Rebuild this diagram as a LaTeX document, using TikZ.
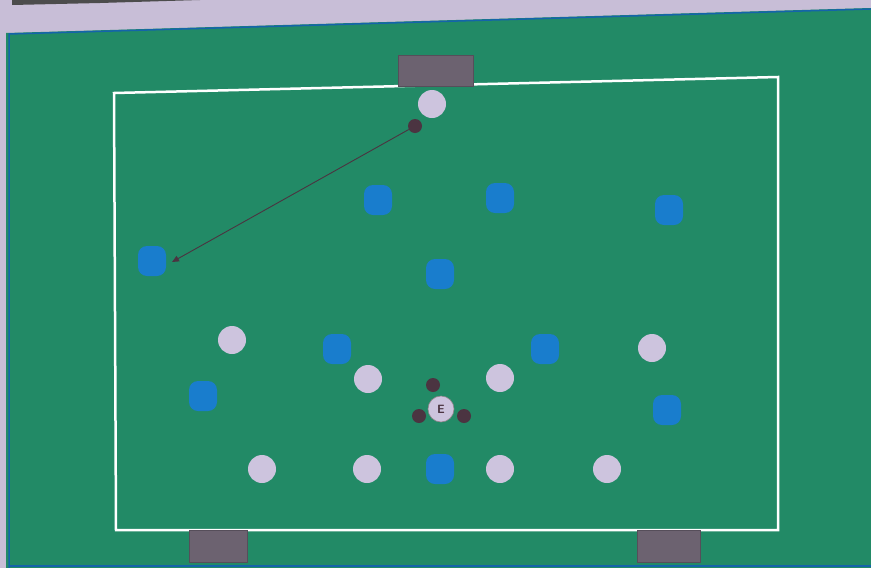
\documentclass[tikz,border=0pt]{standalone}
\usetikzlibrary{arrows.meta}
\definecolor{bgtop}{RGB}{200,190,215}
\definecolor{pitch}{RGB}{34,138,102}
\definecolor{edgeblue}{RGB}{20,100,170}
\definecolor{lightp}{RGB}{205,196,222}
\definecolor{bluep}{RGB}{25,125,205}
\definecolor{darkp}{RGB}{75,52,65}
\definecolor{goalc}{RGB}{108,98,112}
\tikzset{
  light/.style={circle,fill=lightp,minimum size=28pt,inner sep=0pt},
  bluepl/.style={rounded corners=9pt,fill=bluep,minimum width=28pt,minimum height=30pt,inner sep=0pt},
  dot/.style={circle,fill=darkp,minimum size=14pt,inner sep=0pt},
  goal/.style={fill=goalc,draw=goalc!80!black,line width=0.5pt},
  line/.style={draw=white,line width=2.5pt},
}
\begin{document}
\begin{tikzpicture}[x=1pt,y=-1pt]
\useasboundingbox (0,0) rectangle (871,568);
\fill[bgtop] (0,0) rectangle (871,568);
\fill[black!70] (12,0) -- (200,0) -- (100,3) -- (12,5) -- cycle;
\fill[pitch] (6,33) -- (871,8) -- (871,568) -- (6,568) -- cycle;
\draw[edgeblue,line width=1.5pt] (9,568) -- (9,34) -- (871,9);
\draw[edgeblue,line width=2pt] (9,566) -- (871,566);
% field lines
\draw[line] (114,93) -- (778,77) -- (778,530) -- (116,530) -- cycle;
% goals
\fill[goal] (398,55) rectangle (473,86);
\fill[goal] (189,530) rectangle (247,562);
\fill[goal] (637,530) rectangle (700,562);
% light players
\node[light] (t1) at (432,104) {};
\node[light] (l1) at (232,340) {};
\node[light] (l2) at (368,379) {};
\node[light] (l3) at (500,378) {};
\node[light] (l4) at (652,348) {};
\node[light] (l5) at (262,469) {};
\node[light] (l6) at (367,469) {};
\node[light] (l7) at (500,469) {};
\node[light] (l8) at (607,469) {};
% blue players
\node[bluepl] (b1) at (378,200) {};
\node[bluepl] (b2) at (500,198) {};
\node[bluepl] (b3) at (669,210) {};
\node[bluepl] (b4) at (152,261) {};
\node[bluepl] (b5) at (440,274) {};
\node[bluepl] (b6) at (337,349) {};
\node[bluepl] (b7) at (545,349) {};
\node[bluepl] (b8) at (203,396) {};
\node[bluepl] (b9) at (667,410) {};
\node[bluepl] (b10) at (440,469) {};
% balls / dots
\node[dot] (d0) at (415,126) {};
\node[dot] (d1) at (433,385) {};
\node[dot] (d2) at (419,416) {};
\node[dot] (d3) at (464,416) {};
\node[circle,fill=lightp,draw=darkp!60,line width=0.6pt,minimum size=26pt,inner sep=0pt,font=\sffamily\bfseries\large,text=darkp] (E) at (441,409) {E};
% pass
\coordinate (pe) at (172,262);
\draw[darkp,line width=0.9pt,-{Triangle[length=7pt,width=6pt]}] (d0) -- (pe);
\end{tikzpicture}
\end{document}
